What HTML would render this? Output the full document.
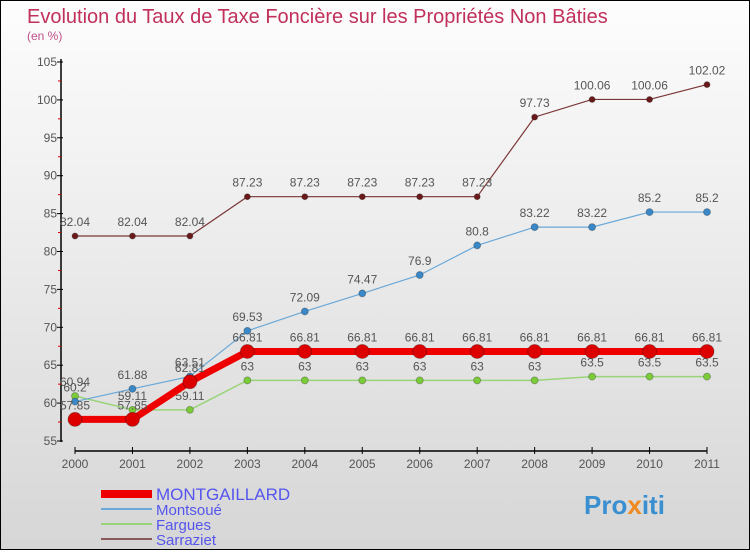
<!DOCTYPE html>
<html><head><meta charset="utf-8"><style>
html,body{margin:0;padding:0}
body{width:750px;height:550px;overflow:hidden;font-family:"Liberation Sans",sans-serif}
#wrap{position:relative;width:748px;height:548px;border:1px solid #000;background:linear-gradient(#fdfdfd,#d6d6d6)}
</style></head><body>
<div id="wrap">
<svg id="chart" width="748" height="548">
<text x="26" y="22" font-size="20" fill="#c0305a">Evolution du Taux de Taxe Foncière sur les Propriétés Non Bâties</text>
<text x="26" y="39" font-size="12" fill="#c0508a">(en %)</text>
<text x="583" y="513" font-size="26" font-weight="bold" fill="#3a8fd0">Pro<tspan fill="#f08a20">x</tspan>iti</text>
</svg>
</div>
<script>
const years=["2000","2001","2002","2003","2004","2005","2006","2007","2008","2009","2010","2011"];
const yTicks=[55,60,65,70,75,80,85,90,95,100,105];
const montgaillard=[57.85,57.85,62.81,66.81,66.81,66.81,66.81,66.81,66.81,66.81,66.81,66.81];
const montsoue=[60.2,61.88,63.51,69.53,72.09,74.47,76.9,80.8,83.22,83.22,85.2,85.2];
const fargues=[60.94,59.11,59.11,63,63,63,63,63,63,63.5,63.5,63.5];
const sarraziet=[82.04,82.04,82.04,87.23,87.23,87.23,87.23,87.23,97.73,100.06,100.06,102.02];
const NS="http://www.w3.org/2000/svg";
const svg=document.getElementById('chart');
const x=i=>74+i*(632/(years.length-1));
const y=v=>440-(v-55)*(379/50);
function el(t,a,p){const e=document.createElementNS(NS,t);for(const k in a)e.setAttribute(k,a[k]);(p||svg).appendChild(e);return e;}
const ax=el('line',{x1:60,y1:58,x2:60,y2:441,stroke:'#000','stroke-width':1.5});


const xa=el('line',{x1:74,y1:450,x2:706,y2:450,stroke:'#000','stroke-width':1.5});


yTicks.forEach((v,i)=>{
  el('line',{x1:56,y1:y(v),x2:62,y2:y(v),stroke:'#000'});
  if(i<yTicks.length-1)el('line',{x1:57,y1:y(v+2.5),x2:60,y2:y(v+2.5),stroke:'#d00'});
  const t=el('text',{x:56,y:y(v)+4,'font-size':12,fill:'#555','text-anchor':'end'});
  t.textContent=v;
  
  
});
years.forEach((yr,i)=>{
  el('line',{x1:x(i),y1:446,x2:x(i),y2:453,stroke:'#000'});
  const t=el('text',{x:x(i),y:467,'font-size':12,fill:'#555','text-anchor':'middle'});
  t.textContent=yr;
  
  
});
function series(data,color,dot,w,r,name,lblOff){
  const g=el('g',{});
  
  
  el('polyline',{points:data.map((v,i)=>x(i)+','+y(v)).join(' '),fill:'none',stroke:color,'stroke-width':w},g);
  data.forEach((v,i)=>{
    const c=el('circle',{cx:x(i),cy:y(v),r:r,fill:dot,stroke:'rgba(0,0,0,0.25)'},g);
    
    
    const t=el('text',{x:x(i),y:y(v)+lblOff,'font-size':12,fill:'#555','text-anchor':'middle'},g);
    t.textContent=v;
    
    
  });
}
series(sarraziet,'#7a3535','#6a1a1a',1.2,3,'sarraziet',-10);
series(fargues,'#9ad47a','#7ccc3a',1.5,3.5,'fargues',-10);
series(montsoue,'#6aa8d8','#3a88c8',1.2,3.5,'montsoue',-10);
series(montgaillard,'#ee0000','#dd0000',7,7,'montgaillard',-10);
const leg=[['MONTGAILLARD','#ee0000',8],['Montsoué','#6aa8d8',2],['Fargues','#9ad47a',2],['Sarraziet','#8a5a5a',2]];
leg.forEach((l,i)=>{
  const yy=493+i*15;
  const g=el('g',{});
  
  
  el('line',{x1:100,y1:yy,x2:151,y2:yy,stroke:l[1],'stroke-width':l[2]},g);
  const t=el('text',{x:155,y:yy+6,'font-size':i==0?17:15,fill:'#5555ee'},g);
  t.textContent=l[0];
});
</script>
</body></html>
